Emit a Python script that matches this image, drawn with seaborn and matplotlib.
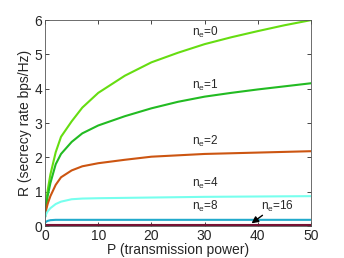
import numpy as np
import pandas as pd
import seaborn as sns
import matplotlib.pyplot as plt

sns.set_style('ticks')
plt.rcParams['font.family'] = ['Liberation Sans', 'DejaVu Sans']
plt.rcParams['xtick.direction'] = 'in'
plt.rcParams['ytick.direction'] = 'in'

# values
power = [0, 0.25, 0.5, 1, 2, 3, 5, 7, 10, 15, 20, 25, 30, 35, 40, 45, 50]
rate_ne0 = [0.27, 0.75, 1.05, 1.5, 2.15, 2.6, 3.05, 3.45, 3.88, 4.38, 4.77, 5.05, 5.3, 5.5, 5.68, 5.85, 6.0]
rate_ne1 = [0.27, 0.62, 0.88, 1.25, 1.8, 2.1, 2.45, 2.7, 2.93, 3.2, 3.43, 3.62, 3.77, 3.88, 3.98, 4.07, 4.16]
rate_ne2 = [0.27, 0.5, 0.65, 0.87, 1.2, 1.42, 1.62, 1.74, 1.83, 1.93, 2.02, 2.06, 2.1, 2.12, 2.14, 2.16, 2.18]
rate_ne4 = [0.25, 0.36, 0.43, 0.52, 0.64, 0.71, 0.78, 0.8, 0.81, 0.82, 0.83, 0.84, 0.85, 0.855, 0.86, 0.865, 0.87]
rate_ne8 = [0.1, 0.13, 0.15, 0.17, 0.18, 0.18, 0.18, 0.18, 0.18, 0.18, 0.18, 0.18, 0.18, 0.18, 0.18, 0.18, 0.18]
rate_ne16 = [0.02] * 17

labels = ['0', '1', '2', '4', '8', '16']
colors = ['#66dd11', '#22bb22', '#cc5511', '#77ffee', '#22aacc', '#771133']
series = [rate_ne0, rate_ne1, rate_ne2, rate_ne4, rate_ne8, rate_ne16]
label_pos = [(27.6, 5.55), (27.6, 4.0), (27.6, 2.35), (27.6, 1.15), (27.6, 0.47), (40.6, 0.47)]

fig, ax = plt.subplots(figsize=(3.44, 2.58), dpi=100)

for vals, c in zip(series, colors):
    df = pd.DataFrame({'P': power, 'R': vals})
    sns.lineplot(data=df, x='P', y='R', color=c, lw=1.5, ax=ax)

for lab, (x, y) in zip(labels, label_pos):
    ax.text(x, y, r'n$_\mathregular{e}$=' + lab, fontsize=8.5)

ax.annotate('', xy=(38.4, 0.03), xytext=(41.3, 0.36),
            arrowprops=dict(arrowstyle='-|>', color='black', lw=1.0, mutation_scale=10))

ax.set_xlim(0, 50)
ax.set_ylim(0, 6)
ax.set_xticks([0, 10, 20, 30, 40, 50])
ax.set_yticks([0, 1, 2, 3, 4, 5, 6])
ax.tick_params(top=True, right=True, labelsize=10, length=3, width=0.6, pad=2)
for s in ax.spines.values():
    s.set_linewidth(0.6)
    s.set_color('#555555')
ax.set_xlabel('P (transmission power)', fontsize=10, labelpad=0)
ax.set_ylabel('R (secrecy rate bps/Hz)', fontsize=10, labelpad=2)

fig.subplots_adjust(left=0.131, right=0.904, top=0.922, bottom=0.124)
fig.savefig('out.png', dpi=100)
